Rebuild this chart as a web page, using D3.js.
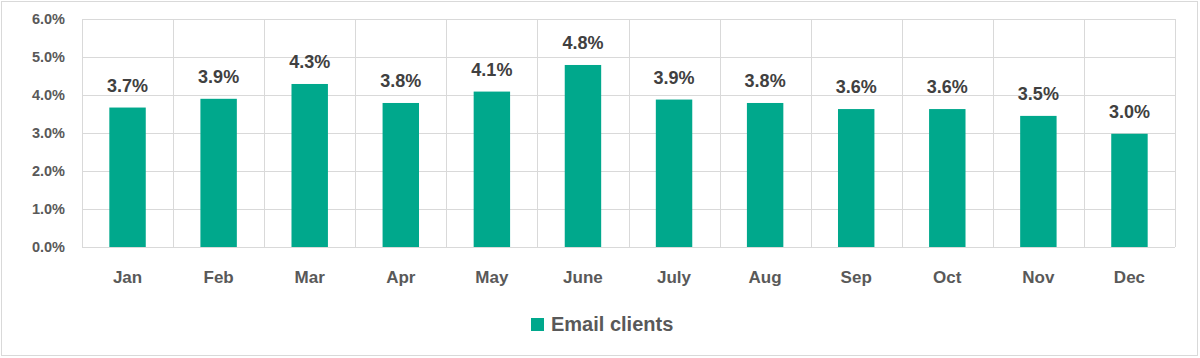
<!DOCTYPE html>
<html><head><meta charset="utf-8">
<script src="https://cdn.jsdelivr.net/npm/d3@7"></script>
<style>html,body{margin:0;padding:0;background:#fff;}svg{display:block;font-family:"Liberation Sans",Arial,sans-serif;}</style>
</head><body>
<svg id="c" width="1200" height="358"></svg>
<script>
const months = ["Jan","Feb","Mar","Apr","May","June","July","Aug","Sep","Oct","Nov","Dec"];
const emailClients = [3.67,3.90,4.29,3.79,4.09,4.79,3.88,3.79,3.63,3.63,3.45,2.98];
const yTicks = [0,1,2,3,4,5,6];
const seriesName = "Email clients";

const svg = d3.select("#c");
const W = 1200, H = 358;
const m = {l:82, r:25, t:19, b:111};
svg.append("rect").attr("x",1.5).attr("y",1.5).attr("width",W-4).attr("height",H-4)
  .attr("fill","#fff").attr("stroke","#d9d9d9").attr("stroke-width",1);

const x = d3.scaleBand().domain(months).range([m.l, W-m.r]).padding(0);
const y = d3.scaleLinear().domain([0,6]).range([H-m.b, m.t]);

const g = svg.append("g");
// horizontal gridlines
g.selectAll("line.h").data(yTicks).join("line")
  .attr("x1",m.l).attr("x2",W-m.r)
  .attr("y1",d=>Math.round(y(d))+0.5).attr("y2",d=>Math.round(y(d))+0.5)
  .attr("stroke","#d9d9d9").attr("stroke-width",1);
// vertical gridlines at band boundaries
const bounds = months.map(d=>x(d)).concat([W-m.r]);
g.selectAll("line.v").data(bounds).join("line")
  .attr("x1",d=>Math.round(d)+0.5).attr("x2",d=>Math.round(d)+0.5)
  .attr("y1",y(6)).attr("y2",y(0))
  .attr("stroke","#d9d9d9").attr("stroke-width",1);

// y labels
g.selectAll("text.yt").data(yTicks).join("text")
  .attr("x",65).attr("y",d=>y(d)).attr("dy","0.36em")
  .attr("text-anchor","end").attr("fill","#595959")
  .attr("font-size","14.5px").attr("font-weight","bold")
  .text(d=>d3.format(".1f")(d)+"%");

// bars
const bw = x.bandwidth()*0.4;
g.selectAll("rect.bar").data(emailClients).join("rect")
  .attr("x",(d,i)=>x(months[i])+(x.bandwidth()-bw)/2)
  .attr("y",d=>y(d)).attr("width",bw).attr("height",d=>y(0)-y(d))
  .attr("fill","#00A88C");

// data labels
g.selectAll("text.dl").data(emailClients).join("text")
  .attr("x",(d,i)=>x(months[i])+x.bandwidth()/2)
  .attr("y",d=>y(d)-16)
  .attr("text-anchor","middle").attr("fill","#404040")
  .attr("font-size","18px").attr("font-weight","bold")
  .text(d=>d3.format(".1f")(d)+"%");

// x labels
g.selectAll("text.xl").data(months).join("text")
  .attr("x",d=>x(d)+x.bandwidth()/2).attr("y",283)
  .attr("text-anchor","middle").attr("fill","#595959")
  .attr("font-size","17px").attr("font-weight","bold")
  .text(d=>d);

// legend
const lg = svg.append("g");
lg.append("rect").attr("x",531).attr("y",318).attr("width",13).attr("height",13).attr("fill","#00A88C");
lg.append("text").attr("x",551).attr("y",331).attr("fill","#595959")
  .attr("font-size","20px").attr("font-weight","bold").text(seriesName);
</script>
</body></html>
